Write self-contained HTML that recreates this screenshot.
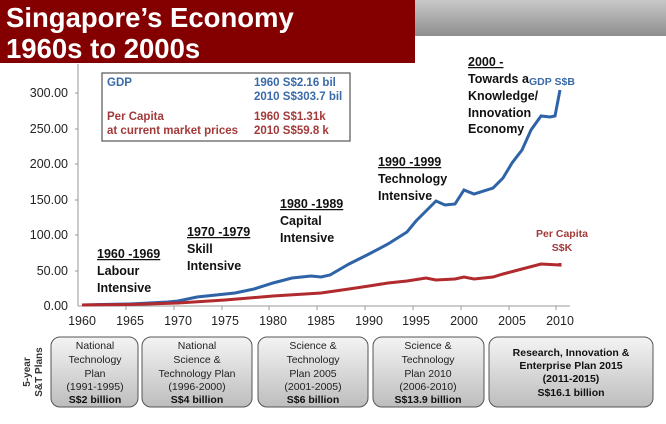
<!DOCTYPE html>
<html><head><meta charset="utf-8"><style>
body{margin:0;width:666px;height:419px;overflow:hidden;background:#fff;font-family:"Liberation Sans",Arial,sans-serif}
</style></head><body>
<svg width="666" height="419" viewBox="0 0 666 419" xmlns="http://www.w3.org/2000/svg" font-family="Liberation Sans, Arial, sans-serif">
<defs>
<linearGradient id="g" x1="0" y1="0" x2="0" y2="1"><stop offset="0" stop-color="#c8c8c8"/><stop offset="1" stop-color="#8e8e8e"/></linearGradient>
<linearGradient id="bx" x1="0" y1="0" x2="0" y2="1"><stop offset="0" stop-color="#f4f4f4"/><stop offset="1" stop-color="#bdbdbd"/></linearGradient>
</defs>
<rect x="415" y="0" width="251" height="36" fill="url(#g)"/>
<rect x="0" y="0" width="415" height="63" fill="#840000"/>
<text x="6" y="27" fill="#fff" font-size="27.5" font-weight="bold">Singapore’s Economy</text>
<text x="6" y="58" fill="#fff" font-size="27.5" font-weight="bold">1960s to 2000s</text>
<!-- axes -->
<line x1="78" y1="64" x2="78" y2="306" stroke="#999"/>
<line x1="78" y1="306" x2="570" y2="306" stroke="#999"/>
<g font-size="12.5" fill="#222" text-anchor="end">
<text x="68" y="97">300.00</text><text x="68" y="133">250.00</text><text x="68" y="168">200.00</text>
<text x="68" y="204">150.00</text><text x="68" y="239">100.00</text><text x="68" y="275">50.00</text><text x="68" y="310">0.00</text>
</g>
<g stroke="#999"><line x1="75" y1="93" x2="78" y2="93"/><line x1="75" y1="129" x2="78" y2="129"/><line x1="75" y1="164" x2="78" y2="164"/><line x1="75" y1="200" x2="78" y2="200"/><line x1="75" y1="235" x2="78" y2="235"/><line x1="75" y1="271" x2="78" y2="271"/>
<line x1="126" y1="306" x2="126" y2="310"/><line x1="174" y1="306" x2="174" y2="310"/><line x1="222" y1="306" x2="222" y2="310"/><line x1="269" y1="306" x2="269" y2="310"/><line x1="317" y1="306" x2="317" y2="310"/><line x1="365" y1="306" x2="365" y2="310"/><line x1="413" y1="306" x2="413" y2="310"/><line x1="461" y1="306" x2="461" y2="310"/><line x1="509" y1="306" x2="509" y2="310"/><line x1="556" y1="306" x2="556" y2="310"/></g>
<g font-size="12.5" fill="#222" text-anchor="middle">
<text x="82" y="325">1960</text><text x="130" y="325">1965</text><text x="178" y="325">1970</text><text x="225" y="325">1975</text><text x="273" y="325">1980</text><text x="321" y="325">1985</text><text x="369" y="325">1990</text><text x="416" y="325">1995</text><text x="464" y="325">2000</text><text x="512" y="325">2005</text><text x="560" y="325">2010</text>
</g>
<!-- series -->
<polyline fill="none" stroke="#2e63a8" stroke-width="3" points="82,305 101,304.5 130,304 149,303 168,302 178,301 197,297 216,295 235,293 254,289 273,283 292,278 311,276 321,277 330,275 349,264 369,254 388,244 407,232 416,221 426,211 436,201 445,205 455,204 464,190 474,194 493,188 503,178 512,163 522,150 531,130 541,116 550,117 555,116 560,90"/>
<polyline fill="none" stroke="#b02a2e" stroke-width="3" points="82,305 130,304.5 178,303 225,300 273,296 321,293 349,289 369,286 388,283 407,281 426,278 436,280 455,279 464,277 474,279 493,277 503,274 522,269 541,264 560,265 560,263"/>
<!-- legend box -->
<rect x="102" y="73" width="248" height="68" fill="#fff" stroke="#555" stroke-width="1.2"/>
<g font-size="11.5" font-weight="bold">
<text x="107" y="86" fill="#3a6aa8">GDP</text>
<text x="254" y="86" fill="#3a6aa8">1960 S$2.16 bil</text>
<text x="254" y="100" fill="#3a6aa8">2010 S$303.7 bil</text>
<text x="107" y="120" fill="#a33a3a">Per Capita</text>
<text x="107" y="134" fill="#a33a3a">at current market prices</text>
<text x="254" y="120" fill="#a33a3a">1960 S$1.31k</text>
<text x="254" y="134" fill="#a33a3a">2010 S$59.8 k</text>
</g>
<!-- annotations -->
<g font-size="12.5" font-weight="bold" fill="#111">
<text x="97" y="258" text-decoration="underline">1960 -1969</text><text x="97" y="275">Labour</text><text x="97" y="292">Intensive</text>
<text x="187" y="236" text-decoration="underline">1970 -1979</text><text x="187" y="253">Skill</text><text x="187" y="270">Intensive</text>
<text x="280" y="208" text-decoration="underline">1980 -1989</text><text x="280" y="225">Capital</text><text x="280" y="242">Intensive</text>
<text x="378" y="166" text-decoration="underline">1990 -1999</text><text x="378" y="183">Technology</text><text x="378" y="200">Intensive</text>
<text x="468" y="66" text-decoration="underline">2000 -</text><text x="468" y="83">Towards a</text><text x="468" y="100">Knowledge/</text><text x="468" y="117">Innovation</text><text x="468" y="133">Economy</text>
</g>
<text x="529" y="85" font-size="10.5" font-weight="bold" fill="#3a6aa8">GDP S$B</text>
<text x="562" y="237" font-size="10.5" font-weight="bold" fill="#a33a3a" text-anchor="middle">Per Capita</text>
<text x="562" y="251" font-size="10.5" font-weight="bold" fill="#a33a3a" text-anchor="middle">S$K</text>
<!-- plans -->
<text transform="translate(30,372) rotate(-90)" font-size="10" font-weight="bold" fill="#333" text-anchor="middle">5-year</text>
<text transform="translate(42,372) rotate(-90)" font-size="10" font-weight="bold" fill="#333" text-anchor="middle">S&amp;T Plans</text>
<g stroke="#555" fill="url(#bx)">
<rect x="51" y="337" width="87" height="70" rx="9"/><rect x="142" y="337" width="110" height="70" rx="9"/><rect x="258" y="337" width="110" height="70" rx="9"/><rect x="373" y="337" width="111" height="70" rx="9"/><rect x="489" y="337" width="164" height="70" rx="9"/>
</g>
<g font-size="10.5" fill="#222" text-anchor="middle">
<text x="95" y="349">National</text><text x="95" y="363">Technology</text><text x="95" y="377">Plan</text><text x="95" y="390">(1991-1995)</text>
<text x="197" y="349">National</text><text x="197" y="363">Science &amp;</text><text x="197" y="377">Technology Plan</text><text x="197" y="390">(1996-2000)</text>
<text x="313" y="349">Science &amp;</text><text x="313" y="363">Technology</text><text x="313" y="377">Plan 2005</text><text x="313" y="390">(2001-2005)</text>
<text x="428" y="349">Science &amp;</text><text x="428" y="363">Technology</text><text x="428" y="377">Plan 2010</text><text x="428" y="390">(2006-2010)</text>
</g>
<g font-size="10.5" fill="#111" font-weight="bold" text-anchor="middle">
<text x="95" y="403">S$2 billion</text><text x="197" y="403">S$4 billion</text><text x="313" y="403">S$6 billion</text><text x="428" y="403">S$13.9 billion</text>
<text x="571" y="356">Research, Innovation &amp;</text><text x="571" y="369">Enterprise Plan 2015</text><text x="571" y="382">(2011-2015)</text><text x="571" y="396">S$16.1 billion</text>
</g>
</svg>
</body></html>
